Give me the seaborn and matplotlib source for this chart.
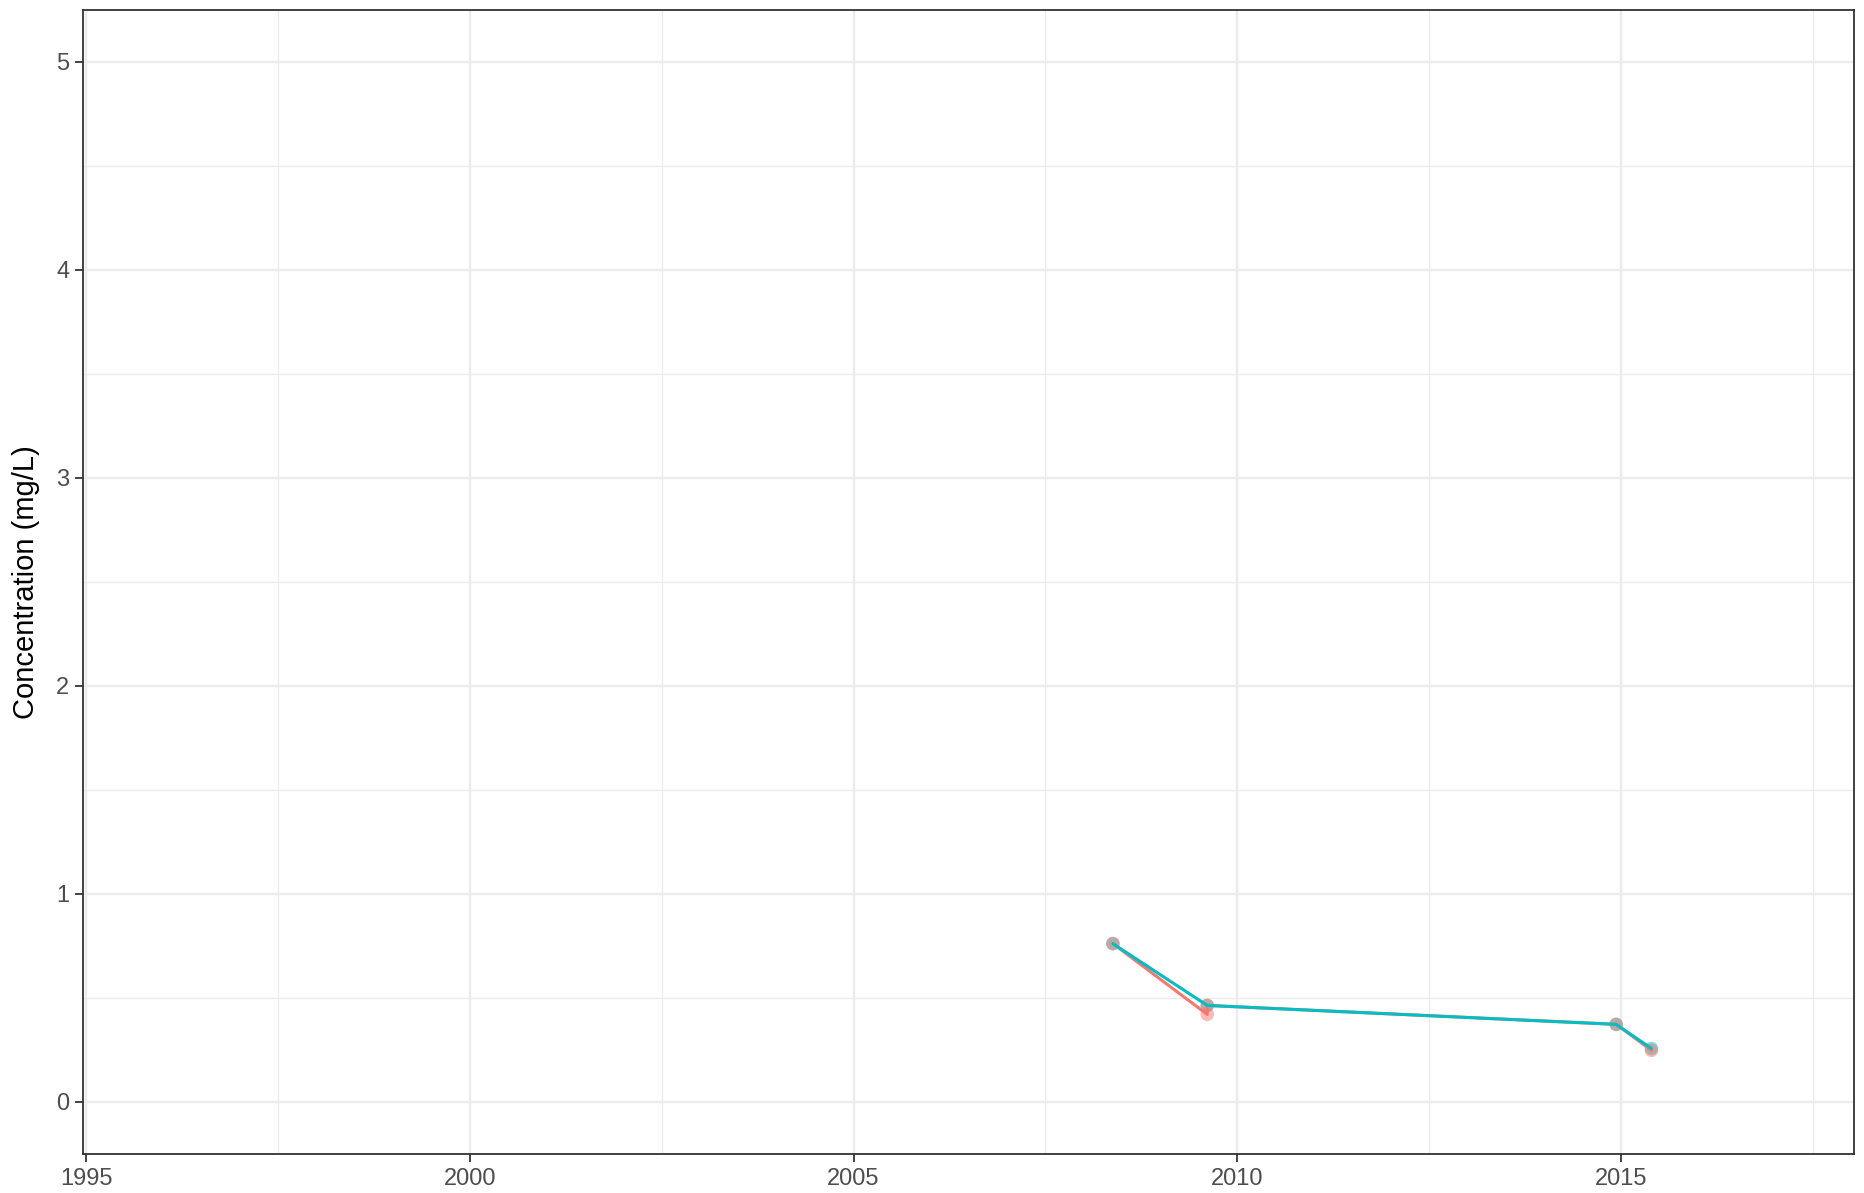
import matplotlib
matplotlib.use("Agg")
import matplotlib.pyplot as plt
import numpy as np
import pandas as pd
import seaborn as sns

# Sampling dates (decimal years) and concentrations for each fraction
total_year = [2008.38, 2009.61, 2009.61, 2014.94, 2015.40]
total_conc = [0.760, 0.420, 0.463, 0.372, 0.247]

dissolved_year = [2008.38, 2009.61, 2014.94, 2015.40]
dissolved_conc = [0.760, 0.463, 0.372, 0.256]

series_colors = {"Total": "#F8766D", "Dissolved": "#00BFC4"}

x_major = [1995, 2000, 2005, 2010, 2015]
x_minor = [1997.5, 2002.5, 2007.5, 2012.5, 2017.5]
y_major = [0, 1, 2, 3, 4, 5]
y_minor = [0.5, 1.5, 2.5, 3.5, 4.5]

total = pd.DataFrame({"year": total_year, "conc": total_conc, "fraction": "Total"})
dissolved = pd.DataFrame({"year": dissolved_year, "conc": dissolved_conc, "fraction": "Dissolved"})

sns.set_theme(style="white")
plt.rcParams["font.family"] = ["Liberation Sans", "DejaVu Sans"]

fig = plt.figure(figsize=(18.65, 11.93), dpi=100)
ax = fig.add_axes([0.0447, 0.0329, 0.9494, 0.9591])

# points: dissolved first, total on top (semi-transparent)
pts = pd.concat([dissolved, total], ignore_index=True)
sns.scatterplot(data=pts, x="year", y="conc", hue="fraction", palette=series_colors,
                s=95, alpha=0.5, linewidth=0, legend=False, ax=ax, zorder=3)

# lines: total first, dissolved drawn over it
lines = pd.concat([total, dissolved], ignore_index=True)
sns.lineplot(data=lines, x="year", y="conc", hue="fraction", palette=series_colors,
             hue_order=["Total", "Dissolved"], estimator=None, sort=False,
             linewidth=2.2, legend=False, ax=ax, zorder=4)

ax.set_xlim(1994.96, 2018.04)
ax.set_ylim(-0.25, 5.25)
ax.set_xticks(x_major)
ax.set_xticks(x_minor, minor=True)
ax.set_yticks(y_major)
ax.set_yticks(y_minor, minor=True)
ax.set_xticklabels([str(v) for v in x_major])
ax.set_yticklabels([str(v) for v in y_major])

ax.grid(which="major", color="#EBEBEB", linewidth=1.7)
ax.grid(which="minor", color="#EBEBEB", linewidth=0.9)
ax.set_axisbelow(True)

for side in ["left", "right", "top", "bottom"]:
    ax.spines[side].set_visible(True)
    ax.spines[side].set_color("#333333")
    ax.spines[side].set_linewidth(1.3)

ax.tick_params(which="major", direction="out", length=6, width=1.3, color="#333333",
               labelsize=17, labelcolor="#4D4D4D", pad=4, left=True, bottom=True)
ax.tick_params(which="minor", length=0)

ax.set_xlabel("")
ax.set_ylabel("Concentration (mg/L)", fontsize=21, color="black", labelpad=12)

fig.savefig("out.png", dpi=100)
